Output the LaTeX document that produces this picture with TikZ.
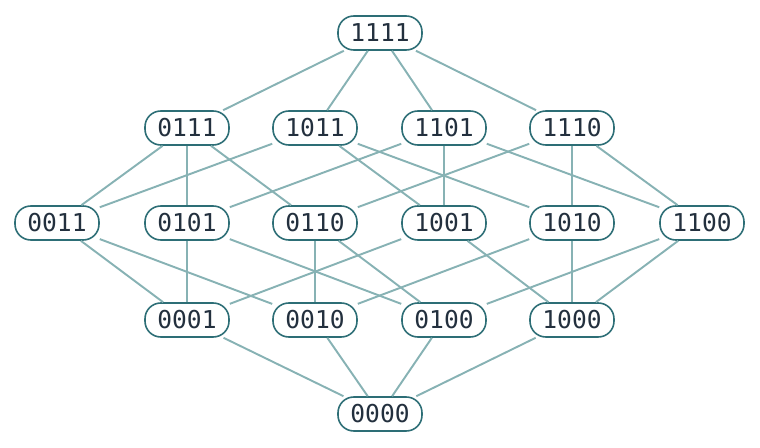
\documentclass[tikz,border=0pt]{standalone}
\usepackage{fontspec}
\setmonofont{DejaVu Sans Mono}
\definecolor{boxline}{RGB}{45,110,118}
\definecolor{edgeline}{RGB}{135,178,180}
\definecolor{labeltext}{RGB}{35,48,62}
\tikzset{
  state/.style={draw=boxline, line width=0.9pt, fill=white, rounded corners=9pt,
    minimum width=84*0.02cm, minimum height=34*0.02cm, inner sep=0pt,
    text=labeltext, font=\ttfamily\fontsize{14}{16}\selectfont},
  cover/.style={draw=edgeline, line width=1.1pt}
}
\begin{document}
\begin{tikzpicture}[x=0.02cm, y=-0.02cm]
  \useasboundingbox (0,0) rectangle (760,448);

  % --- Rows of the lattice ---
  \node[state] (n1111) at (380,33) {1111};
  \foreach \name/\x in {0111/187, 1011/315, 1101/444, 1110/572}
    \node[state] (n\name) at (\x,128) {\name};
  \foreach \name/\x in {0011/57, 0101/187, 0110/315, 1001/444, 1010/572, 1100/702}
    \node[state] (n\name) at (\x,223) {\name};
  \foreach \name/\x in {0001/187, 0010/315, 0100/444, 1000/572}
    \node[state] (n\name) at (\x,320) {\name};
  \node[state] (n0000) at (380,414) {0000};

  % --- Cover relations ---
  \begin{scope}[on background layer/.style={}]
  \foreach \a/\b in {1111/0111, 1111/1011, 1111/1101, 1111/1110,
      0111/0011, 0111/0101, 0111/0110, 1011/0011, 1011/1001, 1011/1010,
      1101/0101, 1101/1001, 1101/1100, 1110/0110, 1110/1010, 1110/1100,
      0011/0001, 0011/0010, 0101/0001, 0101/0100, 0110/0010, 0110/0100,
      1001/0001, 1001/1000, 1010/0010, 1010/1000, 1100/0100, 1100/1000,
      0001/0000, 0010/0000, 0100/0000, 1000/0000}
    \draw[cover] (n\a) -- (n\b);
  \end{scope}
\end{tikzpicture}
\end{document}
